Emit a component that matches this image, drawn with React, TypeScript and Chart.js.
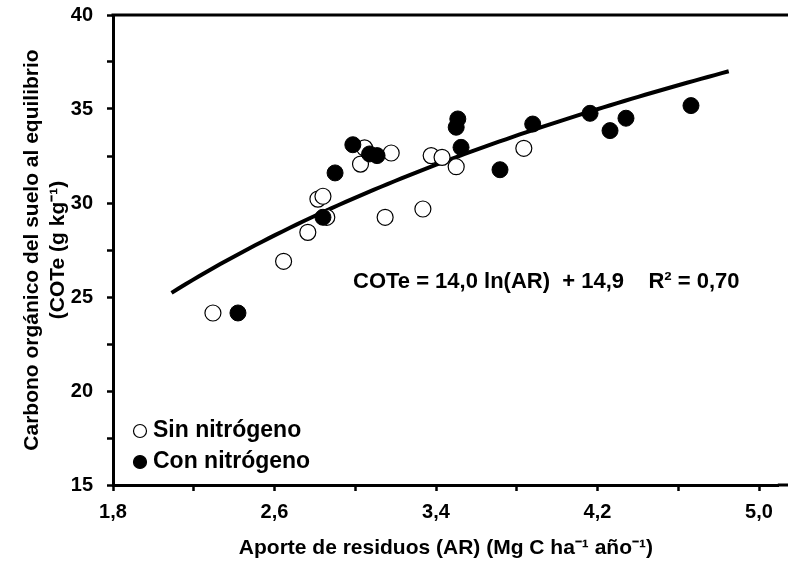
import React, { useEffect, useRef } from "react";
import { Chart, registerables } from "chart.js";

Chart.register(...registerables);

// Sin nitrógeno (open circles)
const sinX = [2.295, 2.645, 2.765, 2.815, 2.84, 2.859, 3.026, 3.046, 3.148, 3.178, 3.335, 3.376, 3.43, 3.5, 3.835];
const sinY = [24.15, 26.9, 28.44, 30.21, 30.36, 29.24, 32.07, 32.93, 29.24, 32.66, 29.68, 32.52, 32.43, 31.93, 32.91];
// Con nitrógeno (filled circles)
const conX = [2.419, 2.84, 2.9, 2.988, 3.071, 3.108, 3.5, 3.508, 3.524, 3.717, 3.879, 4.163, 4.262, 4.341, 4.663];
const conY = [24.15, 29.24, 31.6, 33.1, 32.61, 32.52, 34.03, 34.47, 32.96, 31.77, 34.2, 34.77, 33.85, 34.51, 35.18];
// Fitted curve COTe = a ln(AR) + b, over the fitted range
const fitCoef = [14.0, 14.9];
const fitRange = [2.09, 4.85];

const xTicks = [1.8, 2.2, 2.6, 3.0, 3.4, 3.8, 4.2, 4.6, 5.0];
const xLabeled = [1.8, 2.6, 3.4, 4.2, 5.0];
const yTicks = [15, 17.5, 20, 22.5, 25, 27.5, 30, 32.5, 35, 37.5, 40];
const yLabeled = [15, 20, 25, 30, 35, 40];

const seriesNames = ["Sin nitrógeno", "Con nitrógeno"];
const xTitle = "Aporte de residuos (AR) (Mg C ha⁻¹ año⁻¹)";
const yTitle = ["Carbono orgánico del suelo al equilibrio", "(COTe (g kg⁻¹)"];
const equationText = "COTe = 14,0 ln(AR)  + 14,9    R² = 0,70";

const FONT = "'Liberation Sans', Arial, sans-serif";

function fitPoints() {
  const pts: { x: number; y: number }[] = [];
  const n = 80;
  for (let i = 0; i <= n; i++) {
    const x = fitRange[0] + ((fitRange[1] - fitRange[0]) * i) / n;
    pts.push({ x, y: fitCoef[0] * Math.log(x) + fitCoef[1] });
  }
  return pts;
}

const annotPlugin = {
  id: "annot",
  afterDraw(chart: any) {
    const ctx = chart.ctx;
    const ca = chart.chartArea;
    ctx.save();
    // top frame line and bottom axis continuation to the right edge
    ctx.strokeStyle = "#000";
    ctx.lineWidth = 3;
    ctx.beginPath();
    ctx.moveTo(ca.left - 1.5, ca.top);
    ctx.lineTo(chart.width, ca.top);
    ctx.moveTo(ca.right - 1, ca.bottom);
    ctx.lineTo(chart.width, ca.bottom);
    ctx.stroke();

    // regression equation
    ctx.fillStyle = "#000";
    ctx.font = `bold 22px ${FONT}`;
    ctx.textAlign = "left";
    ctx.textBaseline = "middle";
    ctx.fillText(equationText, 353, 282);

    // legend
    const items = [
      { label: seriesNames[0], fill: "#fff", y: 431 },
      { label: seriesNames[1], fill: "#000", y: 462 },
    ];
    for (const it of items) {
      ctx.beginPath();
      ctx.arc(140, it.y, 6.5, 0, Math.PI * 2);
      ctx.fillStyle = it.fill;
      ctx.fill();
      ctx.lineWidth = 1.2;
      ctx.strokeStyle = "#000";
      ctx.stroke();
      ctx.fillStyle = "#000";
      ctx.font = `bold 23px ${FONT}`;
      ctx.fillText(it.label, 153, it.y);
    }
    ctx.restore();
  },
};

export default function App() {
  const ref = useRef<HTMLCanvasElement | null>(null);
  useEffect(() => {
    document.body.style.margin = "0";
    const canvas = ref.current;
    if (!canvas) return;
    const tickFont = { family: FONT, size: 20, weight: "bold" as const };
    const titleFont = { family: FONT, size: 21, weight: "bold" as const };
    const chart = new Chart(canvas, {
      type: "scatter",
      data: {
        datasets: [
          {
            label: "fit",
            type: "line",
            data: fitPoints(),
            borderColor: "#000",
            borderWidth: 4,
            pointRadius: 0,
            fill: false,
            tension: 0,
            order: 3,
          } as any,
          {
            label: seriesNames[0],
            data: sinX.map((x, i) => ({ x, y: sinY[i] })),
            backgroundColor: "#fff",
            borderColor: "#000",
            borderWidth: 1.2,
            pointRadius: 8,
            order: 2,
          },
          {
            label: seriesNames[1],
            data: conX.map((x, i) => ({ x, y: conY[i] })),
            backgroundColor: "#000",
            borderColor: "#000",
            borderWidth: 1,
            pointRadius: 8,
            order: 1,
          },
        ],
      },
      options: {
        responsive: false,
        animation: false,
        layout: { padding: { top: 15, right: 0, left: 0, bottom: 0 } },
        plugins: {
          legend: { display: false },
          tooltip: { enabled: false },
        },
        scales: {
          x: {
            type: "linear",
            min: 1.8,
            max: 5.098,
            afterBuildTicks: (s: any) => {
              s.ticks = xTicks.map((v) => ({ value: v }));
            },
            afterFit: (s: any) => {
              s.height = 82;
              s.paddingLeft = 0;
              s.paddingRight = 0;
            },
            ticks: {
              autoSkip: false,
              maxRotation: 0,
              color: "#000",
              font: tickFont,
              padding: 9,
              callback: (v: any) =>
                xLabeled.some((t) => Math.abs(t - v) < 1e-6) ? Number(v).toFixed(1).replace(".", ",") : "",
            },
            grid: {
              drawOnChartArea: false,
              drawTicks: true,
              tickLength: 6,
              tickWidth: 2.5,
              color: "#000",
            },
            border: { display: true, color: "#000", width: 3 },
            title: {
              display: true,
              text: xTitle,
              color: "#000",
              font: titleFont,
              padding: { top: 0, bottom: 6 },
            },
          },
          y: {
            type: "linear",
            min: 15,
            max: 40,
            afterBuildTicks: (s: any) => {
              s.ticks = yTicks.map((v) => ({ value: v }));
            },
            afterFit: (s: any) => {
              s.width = 113;
              s.paddingTop = 0;
              s.paddingBottom = 0;
            },
            ticks: {
              autoSkip: false,
              color: "#000",
              font: tickFont,
              padding: 14,
              callback: (v: any) => (yLabeled.some((t) => Math.abs(t - v) < 1e-6) ? String(v) : ""),
            },
            grid: {
              drawOnChartArea: false,
              drawTicks: true,
              tickLength: 6,
              tickWidth: 2.5,
              color: "#000",
            },
            border: { display: true, color: "#000", width: 3 },
            title: {
              display: true,
              text: yTitle,
              color: "#000",
              font: titleFont,
              padding: { top: 20, bottom: 0 },
            },
          },
        },
      },
      plugins: [annotPlugin],
    });
    return () => chart.destroy();
  }, []);
  return (
    <div style={{ position: "absolute", left: 0, top: 0, width: 788, height: 567, background: "#fff" }}>
      <canvas ref={ref} width={788} height={567} style={{ width: 788, height: 567 }} />
    </div>
  );
}
